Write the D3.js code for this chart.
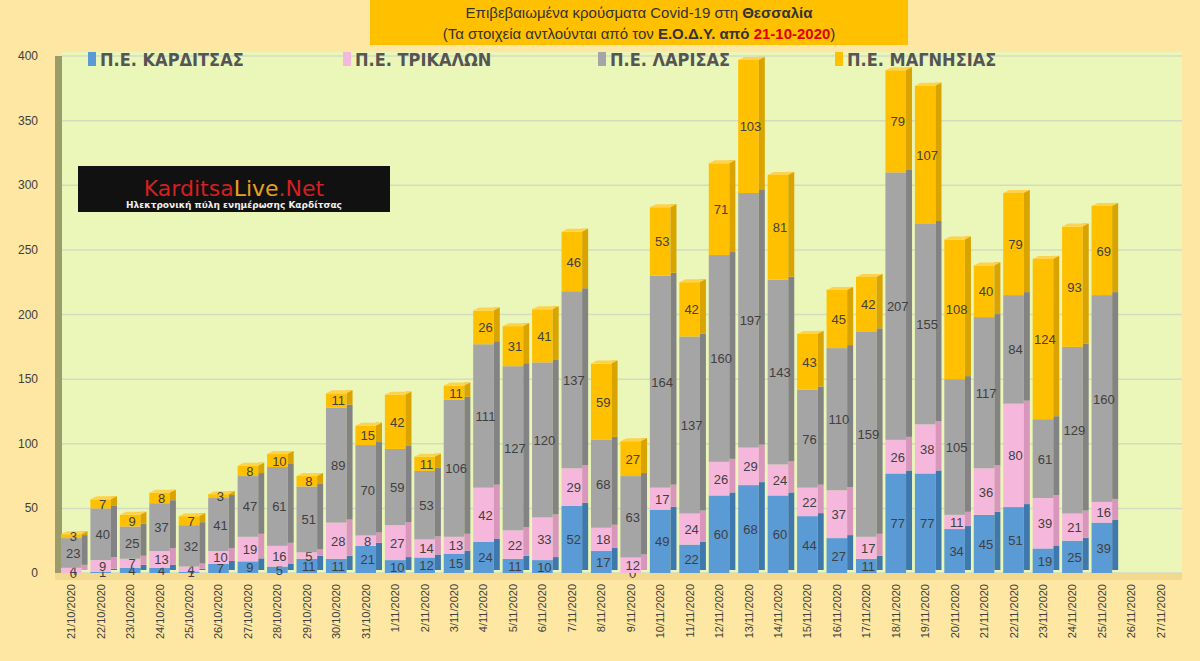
<!DOCTYPE html>
<html><head><meta charset="utf-8">
<script src="https://cdn.jsdelivr.net/npm/d3@7"></script>
<style>body{margin:0;background:#fde7a2;}svg{display:block;}</style>
</head><body>
<svg width="1200" height="661"></svg>
<script>
const dates = ["21/10/2020","22/10/2020","23/10/2020","24/10/2020","25/10/2020","26/10/2020","27/10/2020","28/10/2020","29/10/2020","30/10/2020","31/10/2020",
  "1/11/2020","2/11/2020","3/11/2020","4/11/2020","5/11/2020","6/11/2020","7/11/2020","8/11/2020","9/11/2020","10/11/2020","11/11/2020","12/11/2020","13/11/2020","14/11/2020","15/11/2020","16/11/2020","17/11/2020","18/11/2020","19/11/2020","20/11/2020","21/11/2020","22/11/2020","23/11/2020","24/11/2020","25/11/2020","26/11/2020","27/11/2020"];
const karditsa = [0,1,4,4,1,7,9,5,11,11,21,10,12,15,24,11,10,52,17,0,49,22,60,68,60,44,27,11,77,77,34,45,51,19,25,39,null,null];
const trikala  = [4,9,7,13,4,10,19,16,5,28,8,27,14,13,42,22,33,29,18,12,17,24,26,29,24,22,37,17,26,38,11,36,80,39,21,16,null,null];
const larisa   = [23,40,25,37,32,41,47,61,51,89,70,59,53,106,111,127,120,137,68,63,164,137,160,197,143,76,110,159,207,155,105,117,84,61,129,160,null,null];
const magnisia = [3,7,9,8,7,3,8,10,8,11,15,42,11,11,26,31,41,46,59,27,53,42,71,103,81,43,45,42,79,107,108,40,79,124,93,69,null,null];
const seriesNames = ["Π.Ε. ΚΑΡΔΙΤΣΑΣ","Π.Ε. ΤΡΙΚΑΛΩΝ","Π.Ε. ΛΑΡΙΣΑΣ","Π.Ε. ΜΑΓΝΗΣΙΑΣ"];
const yTicks = [0,50,100,150,200,250,300,350,400];

const colors = ["#5b9bd5","#f5b8dc","#a5a5a5","#ffc000"];
const sides = ["#3f78ad","#d996bd","#838383","#d9a300"];
const series = [karditsa, trikala, larisa, magnisia];

const svg = d3.select("svg");
const pLeft = 62, pRight = 1182, pTop = 56, pBottom = 573;
const x = d3.scaleBand().domain(dates).range([pLeft - 4, pRight - 8]).paddingInner(0.3).paddingOuter(0.1);
const y = d3.scaleLinear().domain([0, 400]).range([pBottom, pTop]);

// plot area, wall, floor
svg.append("rect").attr("x", pLeft).attr("y", pTop - 4).attr("width", pRight - pLeft).attr("height", pBottom - pTop + 4).attr("fill", "#ebf7b8");
svg.append("rect").attr("x", pLeft - 7).attr("y", pTop).attr("width", 7).attr("height", pBottom - pTop + 6).attr("fill", "#9a9c6a");
svg.append("rect").attr("x", pLeft - 7).attr("y", pBottom).attr("width", pRight - pLeft + 7).attr("height", 7).attr("fill", "#f3d88f");

svg.append("g").selectAll("line").data(yTicks).join("line")
  .attr("x1", pLeft).attr("x2", pRight).attr("y1", d => y(d)).attr("y2", d => y(d))
  .attr("stroke", "#d3dcc0").attr("stroke-width", 1.5);

svg.append("g").selectAll("text").data(yTicks).join("text")
  .attr("x", 38).attr("y", d => y(d) + 4).attr("text-anchor", "end")
  .attr("font-family", "Liberation Sans").attr("font-size", 12).attr("fill", "#404040").text(d => d);

// logo
const logo = svg.append("g");
logo.append("rect").attr("x", 78).attr("y", 166).attr("width", 312).attr("height", 46).attr("fill", "#111");
logo.append("text").attr("x", 234).attr("y", 196).attr("text-anchor", "middle").attr("font-family", "DejaVu Sans").attr("font-size", 22).attr("fill", "#d42020")
  .html('Karditsa<tspan fill="#e8a020">Live</tspan>.Net');
logo.append("text").attr("x", 234).attr("y", 208).attr("text-anchor", "middle").attr("font-family", "DejaVu Sans").attr("font-weight", "bold").attr("font-size", 9).attr("fill", "#eee").text("Ηλεκτρονική πύλη ενημέρωσης Καρδίτσας");

// bars
const bw = x.bandwidth(), depth = 6;
dates.forEach((d, i) => {
  let acc = 0;
  series.forEach((s, k) => {
    const v = s[i];
    if (v == null) return;
    const y0 = y(acc), y1 = y(acc + v);
    acc += v;
    const g = svg.append("g");
    g.append("rect").attr("x", x(d)).attr("y", y1).attr("width", bw).attr("height", y0 - y1).attr("fill", colors[k]);
    g.append("rect").attr("x", x(d) + bw).attr("y", y1 - depth / 2).attr("width", depth).attr("height", y0 - y1).attr("fill", sides[k]);
    if (k === 3) g.append("polygon").attr("points", `${x(d)},${y1} ${x(d)+bw},${y1} ${x(d)+bw+depth},${y1-depth/2} ${x(d)+depth},${y1-depth/2}`).attr("fill", "#ffd24d");
    g.append("text").attr("x", x(d) + bw / 2 + 2).attr("y", (y0 + y1) / 2 + 5).attr("text-anchor", "middle")
      .attr("font-family", "Liberation Sans").attr("font-size", 13).attr("fill", "#404040").text(v);
  });
});

// x labels
svg.append("g").selectAll("text").data(dates).join("text")
  .attr("transform", d => `translate(${x(d) + bw / 2 + 4},584) rotate(-90)`)
  .attr("text-anchor", "end").attr("font-family", "Liberation Sans").attr("font-size", 11).attr("fill", "#404040").text(d => d);

// legend
const legX = [88, 343, 598, 835];
seriesNames.forEach((n, k) => {
  svg.append("rect").attr("x", legX[k]).attr("y", 52).attr("width", 8).attr("height", 14).attr("fill", colors[k]);
  svg.append("text").attr("x", legX[k] + 12).attr("y", 66).attr("font-family", "DejaVu Sans Condensed").attr("font-weight", "bold")
    .attr("font-size", 18).attr("fill", "#555").text(n);
});

// title
svg.append("rect").attr("x", 370).attr("y", 0).attr("width", 538).attr("height", 45).attr("fill", "#ffc000");
svg.append("text").attr("x", 639).attr("y", 18).attr("text-anchor", "middle").attr("font-family", "Liberation Sans").attr("font-size", 15).attr("fill", "#333")
  .html('Επιβεβαιωμένα κρούσματα Covid-19 στη <tspan font-weight="bold">Θεσσαλία</tspan>');
svg.append("text").attr("x", 639).attr("y", 39).attr("text-anchor", "middle").attr("font-family", "Liberation Sans").attr("font-size", 15).attr("fill", "#333")
  .html('(Τα στοιχεία αντλούνται από τον <tspan font-weight="bold">Ε.Ο.Δ.Υ. από</tspan> <tspan font-weight="bold" fill="#e00000">21-10-2020</tspan>)');
</script>
</body></html>
